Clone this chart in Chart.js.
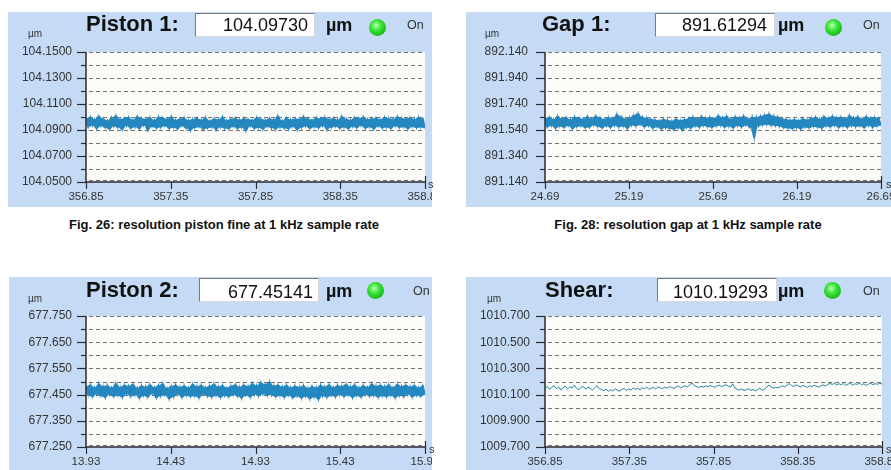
<!DOCTYPE html>
<html><head><meta charset="utf-8">
<script src="https://cdn.jsdelivr.net/npm/chart.js@4.4.0/dist/chart.umd.min.js"></script>
<style>
body{margin:0;width:891px;height:470px;background:#fff;position:relative;overflow:hidden;font-family:"Liberation Sans",Arial,sans-serif;}
canvas{position:absolute;background:#c5dbf5;}
.t{position:absolute;white-space:nowrap;line-height:1;color:#111;}
.box{position:absolute;background:#fff;border-top:1px solid #7a7a7a;border-left:1px solid #7a7a7a;border-right:1px solid #d8d8d8;border-bottom:1px solid #d8d8d8;box-sizing:border-box;}
.led{position:absolute;border-radius:50%;background:radial-gradient(circle at 42% 38%,#b8ffb0 0%,#3be33b 35%,#16b816 75%,#0e8f0e 100%);}
</style></head><body>
<canvas id="c1" width="424" height="195" style="left:8px;top:12px"></canvas>
<canvas id="c2" width="425" height="195" style="left:466px;top:12px"></canvas>
<canvas id="c3" width="423" height="193" style="left:9px;top:277px"></canvas>
<canvas id="c4" width="425" height="193" style="left:466px;top:277px"></canvas>
<script>
// ---------- DATA ----------
const piston1XTicks = [356.85, 357.35, 357.85, 358.35, 358.85];
const piston1XLabels = ['356.85', '357.35', '357.85', '358.35', '358.85'];
const piston1YTicks = [104.05, 104.07, 104.09, 104.11, 104.13, 104.15];
const piston1YLabels = ['104.0500', '104.0700', '104.0900', '104.1100', '104.1300', '104.1500'];
const piston1Values = [
104.0990,104.0921,104.1001,104.0932,104.0985,104.0910,104.1008,104.0928,104.0989,104.0915,
104.0975,104.0904,104.0996,104.0926,104.1012,104.0918,104.0984,104.0902,104.0992,104.0930,
104.0999,104.0912,104.0980,104.0921,104.1005,104.0908,104.0990,104.0933,104.0986,104.0898,
104.0997,104.0924,104.0979,104.0913,104.1002,104.0919,104.0994,104.0928,104.0987,104.0909,
104.1004,104.0918,104.0978,104.0906,104.0989,104.0929,104.0995,104.0911,104.0977,104.0896,
104.0985,104.0915,104.0993,104.0922,104.0980,104.0904,104.0997,104.0913,104.0974,104.0919,
104.0988,104.0901,104.0982,104.0920,104.1002,104.0912,104.0976,104.0907,104.0986,104.0925,
104.0994,104.0909,104.0981,104.0918,104.0991,104.0892,104.0984,104.0926,104.0978,104.0910,
104.0996,104.0916,104.0987,104.0903,104.0979,104.0924,104.0990,104.0914,104.0983,104.0905,
104.1010,104.0919,104.0975,104.0911,104.0992,104.0908,104.0982,104.0923,104.0988,104.0900,
104.0986,104.0917,104.1003,104.0926,104.0989,104.0910,104.0980,104.0921,104.0995,104.0914,
104.0990,104.0929,104.0999,104.0903,104.0985,104.0918,104.0993,104.0925,104.0981,104.0911,
104.1006,104.0920,104.0987,104.0908,104.0979,104.0924,104.0996,104.0915,104.0991,104.0931,
104.1001,104.0912,104.0984,104.0921,104.0989,104.0905,104.0994,104.0926,104.0983,104.0913,
104.0998,104.0919,104.0990,104.0910,104.0986,104.0928,104.1004,104.0917,104.0992,104.0922,
104.0988,104.0908,104.0997,104.0924,104.0985,104.0916,104.1000,104.0920,104.0989,104.0914];

const gap1XTicks = [24.69, 25.19, 25.69, 26.19, 26.69];
const gap1XLabels = ['24.69', '25.19', '25.69', '26.19', '26.69'];
const gap1YTicks = [891.14, 891.34, 891.54, 891.74, 891.94, 892.14];
const gap1YLabels = ['891.140', '891.340', '891.540', '891.740', '891.940', '892.140'];
const gap1Values = [
891.632,891.561,891.640,891.570,891.625,891.552,891.647,891.566,891.630,891.558,
891.638,891.571,891.622,891.548,891.641,891.563,891.634,891.569,891.627,891.556,
891.645,891.560,891.629,891.574,891.650,891.565,891.636,891.553,891.624,891.568,
891.639,891.557,891.631,891.572,891.662,891.561,891.643,891.566,891.628,891.549,
891.637,891.575,891.655,891.568,891.668,891.579,891.642,891.562,891.633,891.570,
891.627,891.551,891.620,891.562,891.615,891.545,891.624,891.556,891.618,891.548,
891.612,891.542,891.626,891.553,891.617,891.540,891.622,891.558,891.630,891.551,
891.641,891.566,891.628,891.559,891.646,891.571,891.635,891.563,891.640,891.557,
891.632,891.568,891.652,891.573,891.639,891.560,891.648,891.566,891.626,891.554,
891.644,891.570,891.636,891.562,891.650,891.575,891.628,891.558,891.642,891.480,
891.640,891.569,891.647,891.577,891.658,891.580,891.665,891.574,891.650,891.571,
891.643,891.566,891.631,891.556,891.625,891.552,891.618,891.548,891.622,891.555,
891.616,891.546,891.628,891.560,891.621,891.553,891.634,891.565,891.640,891.559,
891.627,891.551,891.645,891.569,891.633,891.562,891.648,891.573,891.636,891.557,
891.641,891.566,891.630,891.558,891.653,891.571,891.637,891.563,891.644,891.568,
891.629,891.555,891.646,891.572,891.634,891.560,891.639,891.567,891.631,891.573];

const piston2XTicks = [13.93, 14.43, 14.93, 15.43, 15.93];
const piston2XLabels = ['13.93', '14.43', '14.93', '15.43', '15.93'];
const piston2YTicks = [677.25, 677.35, 677.45, 677.55, 677.65, 677.75];
const piston2YLabels = ['677.250', '677.350', '677.450', '677.550', '677.650', '677.750'];
const piston2Values = [
677.482,677.447,677.488,677.441,677.479,677.450,677.491,677.444,677.483,677.438,
677.486,677.449,677.478,677.442,677.493,677.446,677.480,677.439,677.487,677.451,
677.484,677.443,677.490,677.448,677.477,677.436,677.485,677.445,677.481,677.440,
677.489,677.452,677.479,677.437,677.486,677.444,677.492,677.447,677.476,677.433,
677.483,677.441,677.488,677.449,677.480,677.439,677.485,677.446,677.478,677.442,
677.490,677.444,677.482,677.437,677.487,677.450,677.479,677.443,677.484,677.440,
677.491,677.446,677.481,677.438,677.486,677.445,677.477,677.441,677.484,677.448,
677.489,677.443,677.480,677.436,677.488,677.447,677.483,677.440,677.492,677.449,
677.486,677.444,677.496,677.451,677.490,677.446,677.499,677.448,677.485,677.441,
677.488,677.445,677.481,677.439,677.487,677.447,677.478,677.437,677.484,677.443,
677.480,677.436,677.485,677.442,677.476,677.433,677.482,677.440,677.478,677.431,
677.487,677.444,677.481,677.439,677.489,677.446,677.479,677.441,677.486,677.448,
677.483,677.442,677.490,677.447,677.481,677.438,677.488,677.445,677.478,677.440,
677.486,677.449,677.480,677.443,677.491,677.446,677.484,677.439,677.487,677.444,
677.482,677.441,677.489,677.447,677.479,677.437,677.490,677.445,677.483,677.442,
677.488,677.450,677.481,677.440,677.486,677.446,677.478,677.443,677.485,677.448];

const shearXTicks = [356.85, 357.35, 357.85, 358.35, 358.85];
const shearXLabels = ['356.85', '357.35', '357.85', '358.35', '358.85'];
const shearYTicks = [1009.7, 1009.9, 1010.1, 1010.3, 1010.5, 1010.7];
const shearYLabels = ['1009.700', '1009.900', '1010.100', '1010.300', '1010.500', '1010.700'];
const shearValues = [
1010.148,1010.162,1010.140,1010.155,1010.170,1010.145,1010.158,1010.136,1010.152,1010.166,
1010.143,1010.160,1010.150,1010.172,1010.146,1010.138,1010.155,1010.163,1010.141,1010.157,
1010.149,1010.134,1010.152,1010.168,1010.144,1010.139,
1010.130,1010.142,1010.125,1010.138,1010.128,1010.145,1010.133,1010.126,1010.140,1010.147,
1010.132,1010.143,1010.136,1010.150,1010.141,
1010.148,1010.137,1010.152,1010.144,1010.158,1010.140,1010.149,1010.155,1010.143,1010.160,
1010.151,1010.146,1010.157,1010.149,1010.162,1010.153,1010.147,1010.159,1010.165,1010.152,
1010.160,1010.168,1010.158,1010.175,1010.188,
1010.168,1010.160,1010.155,1010.163,1010.158,1010.166,1010.160,1010.170,1010.162,1010.157,
1010.165,1010.172,1010.161,1010.168,1010.175,1010.165,1010.158,1010.182,1010.150,1010.140,
1010.135,1010.142,1010.130,1010.138,1010.145,1010.132,1010.140,1010.128,1010.137,1010.150,
1010.133,1010.141,1010.158,1010.172,1010.160,1010.148,1010.155,1010.152,
1010.160,1010.168,1010.158,1010.172,1010.185,1010.170,1010.162,1010.175,1010.166,1010.158,
1010.170,1010.163,1010.155,1010.168,1010.160,1010.172,1010.165,1010.158,1010.167,1010.174,
1010.166,1010.178,
1010.185,1010.178,1010.186,1010.175,1010.183,1010.176,1010.185,1010.170,1010.180,1010.186,
1010.172,1010.182,1010.178,1010.188,1010.175,1010.183,1010.170,1010.180,1010.187,1010.176,
1010.184,1010.179,1010.186,1010.181];

const panelTitles = ['Piston 1:', 'Gap 1:', 'Piston 2:', 'Shear:'];
const panelReadouts = ['104.09730', '891.61294', '677.45141', '1010.19293'];
const captions = ['Fig. 26: resolution piston fine at 1 kHz sample rate', 'Fig. 28: resolution gap at 1 kHz sample rate'];

// ---------- RENDERING ----------
const FONT = '"Liberation Sans", Arial, sans-serif';

function txt(s, x, base, size, o) {
  o = o || {};
  const d = document.createElement('div');
  d.className = 't'; d.textContent = s;
  d.style.fontSize = size + 'px';
  d.style.left = x + 'px';
  d.style.top = (base - 0.8465 * size) + 'px';
  if (o.bold) d.style.fontWeight = 'bold';
  if (o.color) d.style.color = o.color;
  if (o.align === 'center') d.style.transform = 'translateX(-50%)';
  if (o.align === 'right') d.style.transform = 'translateX(-100%)';
  document.body.appendChild(d);
}

const panelPlugin = (yt) => ({
  id: 'panelDeco',
  beforeDatasetsDraw(chart) {
    const { ctx, chartArea: a } = chart;
    const y = chart.scales.y;
    ctx.save();
    ctx.fillStyle = '#fbfbf7';
    ctx.fillRect(a.left, a.top, a.right - a.left, a.bottom - a.top);
    ctx.strokeStyle = '#747474'; ctx.lineWidth = 1; ctx.setLineDash([4, 3]);
    yt.forEach(t => {
      let py = Math.round(y.getPixelForValue(t.value)) + 0.5;
      if (py > a.bottom - 2) py = a.bottom - 1.5;
      ctx.beginPath(); ctx.moveTo(a.left + 3, py); ctx.lineTo(a.right, py); ctx.stroke();
    });
    ctx.restore();
  },
  afterDatasetsDraw(chart) {
    const { ctx, chartArea: a } = chart;
    const x = chart.scales.x, y = chart.scales.y;
    ctx.save();
    ctx.strokeStyle = '#2a2a33'; ctx.lineWidth = 1.5; ctx.setLineDash([]);
    ctx.beginPath();
    ctx.moveTo(a.left, a.top); ctx.lineTo(a.left, a.bottom); ctx.lineTo(a.right, a.bottom);
    ctx.stroke();
    ctx.lineWidth = 1.2;
    yt.forEach(t => {
      const py = Math.round(y.getPixelForValue(t.value)) + 0.5;
      ctx.beginPath(); ctx.moveTo(a.left - (t.major ? 9 : 5), py); ctx.lineTo(a.left, py); ctx.stroke();
    });
    const xt = x.ticks;
    xt.forEach((t, i) => {
      const px = Math.round(x.getPixelForValue(t.value)) + 0.5;
      ctx.beginPath();
      ctx.moveTo(px, i === xt.length - 1 ? a.bottom - 6 : a.bottom);
      ctx.lineTo(px, a.bottom + 7); ctx.stroke();
    });
    ctx.restore();
  }
});

function makeChart(id, o) {
  const yt = [];
  for (let i = 0; i < o.yTicks.length; i++) {
    yt.push({ value: o.yTicks[i], major: true, label: o.yLabels[i] });
    if (i < o.yTicks.length - 1) yt.push({ value: (o.yTicks[i] + o.yTicks[i + 1]) / 2, major: false, label: '' });
  }
  const x0 = o.xTicks[0], x1 = o.xTicks[o.xTicks.length - 1];
  const dt = (x1 - x0) / (o.values.length - 1);
  const v = o.values, n = v.length;
  const pts = v.map((val, i) => ({ x: x0 + i * dt, y: val }));
  const datasets = [];
  if (o.band) {
    // envelope of the sampled trace: min/max of each consecutive pair of samples
    const hi = [], lo = [];
    hi.push({ x: x0, y: v[0] }); lo.push({ x: x0, y: v[0] });
    for (let i = 0; i < n - 1; i++) {
      const xm = x0 + (i + 0.5) * dt;
      hi.push({ x: xm, y: Math.max(v[i], v[i + 1]) });
      lo.push({ x: xm, y: Math.min(v[i], v[i + 1]) });
    }
    hi.push({ x: x1, y: v[n - 1] }); lo.push({ x: x1, y: v[n - 1] });
    datasets.push({ data: hi, borderWidth: 0, pointRadius: 0, fill: false, borderColor: 'rgba(0,0,0,0)' });
    datasets.push({ data: lo, borderWidth: 0, pointRadius: 0, fill: '-1', borderColor: 'rgba(0,0,0,0)', backgroundColor: o.fillColor });
  }
  datasets.push({ data: pts, borderColor: o.color, borderWidth: o.lw, pointRadius: 0, tension: 0, fill: false });
  return new Chart(document.getElementById(id), {
    type: 'line',
    data: { datasets },
    options: {
      responsive: false, animation: false, devicePixelRatio: 1,
      layout: { padding: { top: o.padTop, right: o.padRight, left: 0, bottom: 0 } },
      plugins: { legend: { display: false }, tooltip: { enabled: false } },
      scales: {
        x: {
          type: 'linear', min: x0, max: x1,
          grid: { display: false, drawTicks: false, tickLength: 0 },
          border: { display: false },
          afterBuildTicks: s => { s.ticks = o.xTicks.map(t => ({ value: t })); },
          afterFit: s => { s.height = o.xH; s.paddingLeft = 0; s.paddingRight = 0; },
          ticks: { autoSkip: false, maxRotation: 0, minRotation: 0, padding: 8, color: '#333',
                   font: { family: FONT, size: 11.5 }, callback: (val, i) => o.xLabels[i] }
        },
        y: {
          type: 'linear', min: o.yTicks[0], max: o.yTicks[o.yTicks.length - 1],
          grid: { display: false, drawTicks: false, tickLength: 0 },
          border: { display: false },
          afterBuildTicks: s => { s.ticks = yt.map(t => ({ value: t.value })); },
          afterFit: s => { s.width = o.yW; s.paddingTop = 0; s.paddingBottom = 0; },
          ticks: { autoSkip: false, padding: o.yPad, color: '#333',
                   font: { family: FONT, size: 12 }, callback: (val, i) => yt[i].label }
        }
      }
    },
    plugins: [panelPlugin(yt)]
  });
}

const BAND_LINE = '#1a74aa', BAND_FILL = '#2487c0';
makeChart('c1', { values: piston1Values, xTicks: piston1XTicks, xLabels: piston1XLabels, yTicks: piston1YTicks, yLabels: piston1YLabels,
  band: true, color: BAND_LINE, fillColor: BAND_FILL, lw: 1.1, padTop: 40, padRight: 7, yW: 78, xH: 25, yPad: 14 });
makeChart('c2', { values: gap1Values, xTicks: gap1XTicks, xLabels: gap1XLabels, yTicks: gap1YTicks, yLabels: gap1YLabels,
  band: true, color: BAND_LINE, fillColor: BAND_FILL, lw: 1.1, padTop: 40, padRight: 10, yW: 79, xH: 25, yPad: 17 });
makeChart('c3', { values: piston2Values, xTicks: piston2XTicks, xLabels: piston2XLabels, yTicks: piston2YTicks, yLabels: piston2YLabels,
  band: true, color: BAND_LINE, fillColor: BAND_FILL, lw: 1.1, padTop: 39, padRight: 7, yW: 77, xH: 23, yPad: 14 });
makeChart('c4', { values: shearValues, xTicks: shearXTicks, xLabels: shearXLabels, yTicks: shearYTicks, yLabels: shearYLabels,
  band: false, color: '#2a88a6', lw: 1.0, padTop: 39, padRight: 9, yW: 79, xH: 23, yPad: 15 });

// headers
const hdr = [
  { tx: 86, tb: 32, bx: 195, by: 13, vr: 308, vb: 31.5, mx: 326, mb: 31, lx: 377, ly: 27, ox: 407, ob: 30, ux: 28, ub: 37, sx: 428, sb: 188 },
  { tx: 542, tb: 32, bx: 655, by: 13, vr: 767, vb: 31.5, mx: 778, mb: 31, lx: 833, ly: 27, ox: 863, ob: 30, ux: 485, ub: 37, sx: 886, sb: 188 },
  { tx: 86, tb: 298, bx: 199, by: 278, vr: 313, vb: 298.5, mx: 326, mb: 297, lx: 375, ly: 290, ox: 413, ob: 296, ux: 28, ub: 302, sx: 429, sb: 453 },
  { tx: 545, tb: 298, bx: 657, by: 278, vr: 768, vb: 298.5, mx: 778, mb: 297, lx: 832, ly: 290, ox: 863, ob: 296, ux: 487, ub: 302, sx: 886, sb: 453 }
];
hdr.forEach((h, i) => {
  txt(panelTitles[i], h.tx, h.tb, 22, { bold: true });
  const b = document.createElement('div'); b.className = 'box';
  b.style.left = h.bx + 'px'; b.style.top = h.by + 'px'; b.style.width = '120px'; b.style.height = '24px';
  document.body.appendChild(b);
  txt(panelReadouts[i], h.vr, h.vb, 18, { align: 'right' });
  txt('µm', h.mx, h.mb, 18, { bold: true });
  const l = document.createElement('div'); l.className = 'led';
  l.style.left = (h.lx - 8.5) + 'px'; l.style.top = (h.ly - 8.5) + 'px'; l.style.width = '17px'; l.style.height = '17px';
  document.body.appendChild(l);
  txt('On', h.ox, h.ob, 12.5, { color: '#333' });
  txt('µm', h.ux, h.ub, 10, { color: '#333' });
  txt('s', h.sx, h.sb, 11, { color: '#333' });
});
txt(captions[0], 224, 229, 13, { bold: true, align: 'center' });
txt(captions[1], 688, 229, 13, { bold: true, align: 'center' });
</script>
</body></html>
